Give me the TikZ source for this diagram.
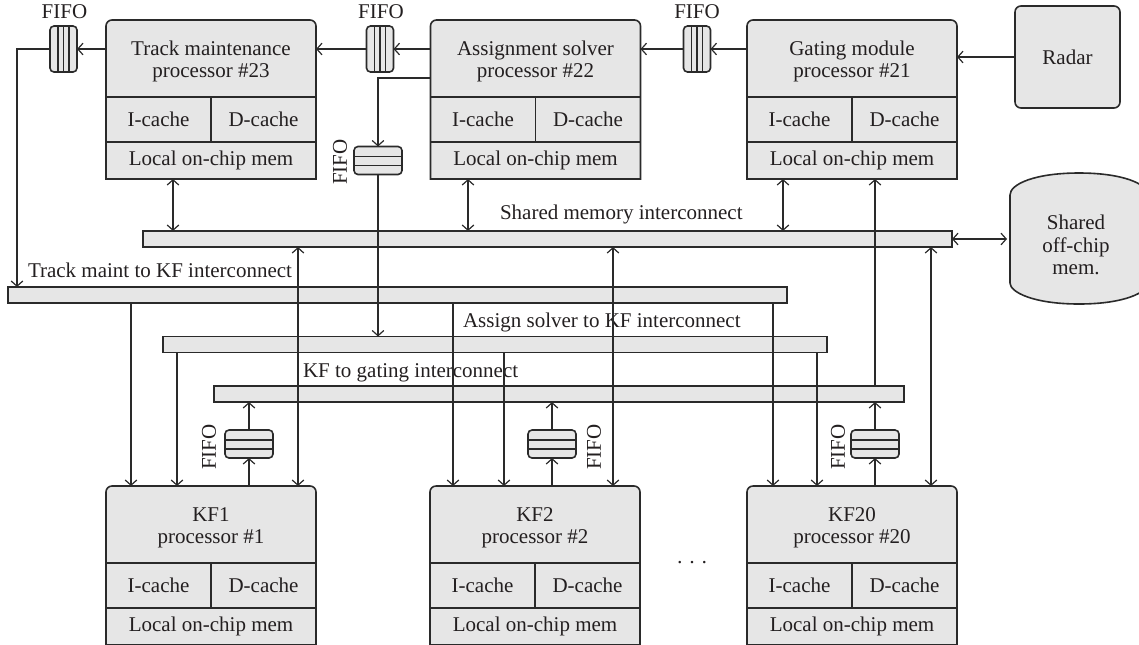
\documentclass[tikz,border=0pt]{standalone}
\usepackage{fontspec}
\setmainfont{Liberation Serif}
\usetikzlibrary{arrows.meta,calc}
\definecolor{boxfill}{HTML}{E6E6E6}
\definecolor{ink}{HTML}{2A2A2A}
\definecolor{txt}{HTML}{231F20}
\tikzset{
  every node/.style={font=\fontsize{10.5pt}{11.2pt}\selectfont, text=txt},
  boxline/.style={draw=ink, line width=0.8pt},
  procbody/.style={minimum width=105pt, minimum height=79.5pt, inner sep=0pt, outer sep=0pt},
  toptext/.style={minimum width=105pt, minimum height=38.5pt, inner sep=0pt, outer sep=0pt, align=center},
  cell/.style={boxline, inner sep=0pt, outer sep=0pt},
  bar/.style={boxline, fill=boxfill, minimum height=8pt, inner sep=0pt, outer sep=0pt},
  fifobox/.style={boxline, fill=boxfill, rounded corners=2pt, inner sep=0pt, outer sep=0pt},
  fifovbox/.style={fifobox, minimum width=13.5pt, minimum height=23pt},
  fifohbox/.style={fifobox, minimum width=24pt, minimum height=14pt},
  fifoline/.style={draw=ink, line width=0.7pt},
  lbl/.style={inner sep=0pt, outer sep=0pt},
  arr/.style={draw=ink, line width=0.6pt, -{Straight Barb[length=2.6pt,width=5.8pt]}},
  darr/.style={draw=ink, line width=0.6pt, {Straight Barb[length=2.6pt,width=5.8pt]}-{Straight Barb[length=2.6pt,width=5.8pt]}},
}
\newcommand\procunit[5]{%
  \node[procbody] (#1) at (#2,#3+79.5) {};
  \draw[boxline,fill=boxfill] (#1.south west) -- ([yshift=-3pt]#1.north west)
     arc[start angle=180,end angle=90,radius=3pt] -- ([xshift=-3pt]#1.north east)
     arc[start angle=90,end angle=0,radius=3pt] -- (#1.south east) -- cycle;
  \node[toptext,anchor=north,yshift=-1.6pt] (#1-t) at (#1.north) {#4\\#5};
  \node[cell,minimum width=52.5pt,minimum height=22.5pt,anchor=north west] (#1-i) at ([yshift=-38.5pt]#1.north west) {I-cache};
  \node[cell,minimum width=52.5pt,minimum height=22.5pt,anchor=north west] (#1-d) at ([yshift=-38.5pt]#1.north) {D-cache};
  \node[cell,minimum width=105pt,minimum height=18.5pt,anchor=north west] (#1-m) at (#1-i.south west) {Local on-chip mem};
}
\newcommand\fifovert[3]{%
  \node[fifovbox] (#1) at (#2,#3) {};
  \foreach \t in {0.3,0.5,0.7}
    \draw[fifoline] ($(#1.north west)!\t!(#1.north east)$) -- ($(#1.south west)!\t!(#1.south east)$);
}
\newcommand\fifohorz[3]{%
  \node[fifohbox] (#1) at (#2,#3) {};
  \foreach \t in {0.36,0.68}
    \draw[fifoline] ($(#1.north west)!\t!(#1.south west)$) -- ($(#1.north east)!\t!(#1.south east)$);
}
\begin{document}
\begin{tikzpicture}[x=0.5pt,y=-0.5pt]
\useasboundingbox (0,0) rectangle (1139,644);

% processors
\procunit{p23}{211}{20}{Track maintenance}{processor \#23}
\procunit{p22}{535.5}{20}{Assignment solver}{processor \#22}
\procunit{p21}{852}{20}{Gating module}{processor \#21}
\procunit{kf1}{211}{486}{KF1}{processor \#1}
\procunit{kf2}{535}{486}{KF2}{processor \#2}
\procunit{kf20}{852}{486}{KF20}{processor \#20}

% radar
\node[boxline, fill=boxfill, rounded corners=3pt, minimum width=52.5pt, minimum height=51pt, inner sep=0pt, outer sep=0pt] (radar) at (1067.5,57) {Radar};

% shared off-chip memory
\draw[boxline, fill=boxfill] (1010,283) -- (1010,195)
  .. controls (1010,184) and (1035,173) .. (1079,173)
  .. controls (1123,173) and (1148,184) .. (1148,195)
  -- (1148,283)
  .. controls (1148,292) and (1125,304) .. (1079,304)
  .. controls (1033,304) and (1010,292) .. (1010,283) -- cycle;
\node[minimum width=69pt, minimum height=45pt, inner sep=0pt, outer sep=0pt, align=center] (mem) at (1076,245) {Shared\\off-chip\\mem.};

% bars
\node[bar, minimum width=404.5pt] (shbar) at (547.5,239) {};
\node[bar, minimum width=389.5pt] (tkbar) at (397.5,295) {};
\node[bar, minimum width=332pt] (asbar) at (495,344.5) {};
\node[bar, minimum width=345pt] (gtbar) at (559,394) {};

% bar labels
\node[lbl, anchor=base west] (lsh) at (500,219) {Shared memory interconnect};
\node[lbl, anchor=base west] (ltk) at (28,277) {Track maint to KF interconnect};
\node[lbl, anchor=base west] (las) at (463,327) {Assign solver to KF interconnect};
\node[lbl, anchor=base west] (lgt) at (303,377) {KF to gating interconnect};

% FIFOs
\fifovert{f1}{63.5}{49}
\fifovert{f2}{380}{49}
\fifovert{f3}{697}{49}
\fifohorz{f4}{378}{160.5}
\fifohorz{ff1}{249}{444}
\fifohorz{ff2}{552}{444}
\fifohorz{ff20}{875}{444}

\node[lbl] (lf1) at (64.5,12) {FIFO};
\node[lbl] (lf2) at (381,12) {FIFO};
\node[lbl] (lf3) at (697,12) {FIFO};
\node[lbl, rotate=90] (lf4) at (340,162) {FIFO};
\node[lbl, rotate=90] (lff1) at (209,447) {FIFO};
\node[lbl, rotate=90] (lff2) at (594,447) {FIFO};
\node[lbl, rotate=90] (lff20) at (838,447) {FIFO};

% dots
\node[lbl] (dots) at (692,565) {\textperiodcentered\ \textperiodcentered\ \textperiodcentered};

% column coordinates
\coordinate (cTk) at (17,0);
\coordinate (cAs) at (0,78);
\coordinate (m23) at (173,0);
\coordinate (m22) at (468,0);
\coordinate (m21) at (783,0);
\coordinate (t1) at (131,0);
\coordinate (t2) at (453,0);
\coordinate (t20) at (773,0);
\coordinate (a1) at (177,0);
\coordinate (a2) at (504,0);
\coordinate (a20) at (817,0);
\coordinate (s1) at (298,0);
\coordinate (s2) at (613,0);
\coordinate (s20) at (931,0);

% top row connectors
\draw[arr] (p23.west |- f1) -- (f1.east);
\draw[arr] (f1.west) -| (tkbar.north -| cTk);
\draw[arr] (p22.west |- f2) -- (f2.east);
\draw[arr] (f2.west) -- (p23.east |- f2);
\draw[arr] (p21.west |- f3) -- (f3.east);
\draw[arr] (f3.west) -- (p22.east |- f3);
\draw[arr] (radar.west) -- (p21.east |- radar);
\draw[arr] (p22.west |- cAs) -| (f4.north);
\draw[arr] (f4.south) -- (asbar.north -| f4);

% processors <-> shared memory
\draw[darr] (p23.south -| m23) -- (shbar.north -| m23);
\draw[darr] (p22.south -| m22) -- (shbar.north -| m22);
\draw[darr] (p21.south -| m21) -- (shbar.north -| m21);
\draw[darr] (shbar.east) -- (mem.west |- shbar);

% track maint bar -> KFs
\draw[arr] (tkbar.south -| t1) -- (kf1.north -| t1);
\draw[arr] (tkbar.south -| t2) -- (kf2.north -| t2);
\draw[arr] (tkbar.south -| t20) -- (kf20.north -| t20);

% assign bar -> KFs
\draw[arr] (asbar.south -| a1) -- (kf1.north -| a1);
\draw[arr] (asbar.south -| a2) -- (kf2.north -| a2);
\draw[arr] (asbar.south -| a20) -- (kf20.north -| a20);

% KFs <-> shared memory
\draw[darr] (kf1.north -| s1) -- (shbar.south -| s1);
\draw[darr] (kf2.north -| s2) -- (shbar.south -| s2);
\draw[darr] (kf20.north -| s20) -- (shbar.south -| s20);

% KFs -> FIFO -> gating bar
\draw[arr] (kf1.north -| ff1) -- (ff1.south);
\draw[arr] (ff1.north) -- (gtbar.south -| ff1);
\draw[arr] (kf2.north -| ff2) -- (ff2.south);
\draw[arr] (ff2.north) -- (gtbar.south -| ff2);
\draw[arr] (kf20.north -| ff20) -- (ff20.south);
\draw[arr] (ff20.north) -- (gtbar.south -| ff20);

% gating bar -> gating module
\draw[arr] (gtbar.north -| ff20) -- (p21.south -| ff20);
\end{tikzpicture}
\end{document}
